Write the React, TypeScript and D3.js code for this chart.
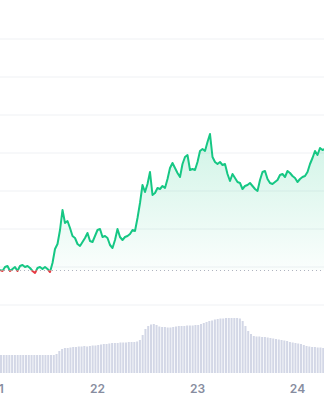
import React from "react";
import * as d3 from "d3";

const W = 324;
const H = 400;

// price samples: every 36 minutes starting 21st 00:36
const priceStart = new Date(2024, 5, 21, 0, 36);
const priceIntervalMin = 36;
const prices = [
  13.5, 13.4, 13.8, 13.9, 13.4, 13.6, 13.8, 13.4, 13.9, 14.0,
  13.8, 13.9, 13.7, 13.4, 13.2, 13.7, 13.8, 13.6, 13.8, 13.6,
  13.3, 14.2, 15.6, 16.1, 17.5, 19.5, 18.2, 18.4, 17.7, 16.9,
  16.7, 16.1, 15.9, 16.3, 16.7, 17.2, 16.4, 16.3, 16.9, 17.5,
  17.6, 16.8, 16.9, 16.7, 16.0, 15.7, 16.5, 17.6, 16.8, 16.5,
  16.8, 16.9, 17.1, 17.5, 17.4, 18.7, 20.2, 22.0, 21.3, 22.1,
  23.3, 21.0, 21.2, 21.7, 21.6, 21.9, 21.7, 22.6, 23.7, 24.2,
  23.7, 23.2, 22.8, 24.1, 24.8, 25.0, 23.5, 23.6, 23.5, 24.3,
  25.4, 25.6, 25.4, 26.3, 27.1, 24.8, 24.3, 24.1, 24.3, 24.0,
  24.1, 23.1, 22.4, 23.1, 22.7, 22.3, 22.2, 21.6, 21.9, 22.0,
  22.2, 21.9, 21.6, 21.4, 22.5, 23.3, 23.4, 22.6, 22.2, 22.1,
  22.3, 22.5, 23.0, 23.1, 22.8, 23.4, 23.2, 22.9, 22.7, 22.3,
  22.6, 22.8, 22.9, 23.3, 24.1, 24.7, 25.4, 25.0, 25.7, 25.5,
  25.6,
];
const openPrice = 13.45;
const priceGrid = [10, 13.8, 17.6, 21.4, 25.2, 29, 32.8, 36.6];

// volume bars: every 40 minutes
const volumeIntervalMin = 40;
const volumes = [
  18, 18, 18, 18, 18, 18, 18, 18, 18, 18,
  18, 18, 18, 18, 18, 18, 18, 18, 18, 18,
  19, 22, 24, 25, 25, 25.5, 26, 26, 26.5, 26.5,
  27, 26.5, 27, 27.5, 27.5, 28, 28.5, 29, 29, 29.5,
  30, 30, 30, 30.5, 30.5, 30.5, 31, 31, 31, 31.5,
  33, 38, 44, 47, 48.5, 49, 48, 46.5, 46, 46,
  45.5, 45.5, 46, 46.5, 47, 47, 47, 47.5, 47.5, 47.5,
  48, 48, 49, 50, 51, 52, 52.5, 53.5, 54, 54.5,
  54.5, 55, 55, 55, 55, 55, 54.5, 52, 47, 42,
  39, 37, 36.5, 36.5, 36, 36, 35.5, 35, 34.5, 34,
  33.5, 33, 32.5, 32, 31, 30.5, 30, 29.5, 29, 28,
  27, 26.5, 26, 26, 25.5, 25.5, 25,
];

const tickDates = [
  new Date(2024, 5, 21),
  new Date(2024, 5, 22),
  new Date(2024, 5, 23),
  new Date(2024, 5, 24),
];
const tickLabels = ["21", "22", "23", "24"];

const GREEN = "#16c784";
const RED = "#ea3943";

export default function App() {
  const x = d3
    .scaleTime()
    .domain([priceStart, new Date(2024, 5, 24, 6, 21, 36)])
    .range([0, W]);
  const y = d3.scaleLinear().domain([10, 36.6]).range([305, 39]);
  const v = d3.scaleLinear().domain([0, 60]).range([373, 313]);

  const pts = prices.map((p, i) => ({
    t: new Date(priceStart.getTime() + i * priceIntervalMin * 60000),
    p,
  }));
  const line = d3
    .line<{ t: Date; p: number }>()
    .x((d) => x(d.t))
    .y((d) => y(d.p));
  const area = d3
    .area<{ t: Date; p: number }>()
    .x((d) => x(d.t))
    .y0(y(openPrice))
    .y1((d) => y(d.p));
  const base = y(openPrice);

  return (
    <svg
      width={W}
      height={H}
      style={{ position: "absolute", left: 0, top: 0, background: "#fff" }}
      fontFamily="Inter, sans-serif"
    >
      <defs>
        <clipPath id="above">
          <rect x={0} y={0} width={W} height={base} />
        </clipPath>
        <clipPath id="below">
          <rect x={0} y={base} width={W} height={H - base} />
        </clipPath>
        <linearGradient id="gUp" gradientUnits="userSpaceOnUse" x1="0" y1={y(27)} x2="0" y2={base}>
          <stop offset="0" stopColor={GREEN} stopOpacity={0.2} />
          <stop offset="1" stopColor={GREEN} stopOpacity={0.02} />
        </linearGradient>
        <linearGradient id="gDown" gradientUnits="userSpaceOnUse" x1="0" y1={base} x2="0" y2={base + 10}>
          <stop offset="0" stopColor={RED} stopOpacity={0.02} />
          <stop offset="1" stopColor={RED} stopOpacity={0.15} />
        </linearGradient>
      </defs>

      {priceGrid.map((g) => (
        <line key={g} x1={0} x2={W} y1={y(g)} y2={y(g)} stroke="#eff1f4" strokeWidth={1} />
      ))}

      {volumes.map((val, i) => {
        const t = new Date(priceStart.getTime() + i * volumeIntervalMin * 60000);
        return (
          <rect key={i} x={x(t)} y={v(val)} width={2} height={v(0) - v(val)} fill="#d3d7e6" />
        );
      })}

      <path d={area(pts) || ""} fill="url(#gUp)" clipPath="url(#above)" />
      <path d={area(pts) || ""} fill="url(#gDown)" clipPath="url(#below)" />

      <line
        x1={0}
        x2={W}
        y1={base}
        y2={base}
        stroke="#aeb3c0"
        strokeWidth={1}
        strokeDasharray="1 3"
      />

      <path d={line(pts) || ""} fill="none" stroke={GREEN} strokeWidth={2} strokeLinejoin="round" clipPath="url(#above)" />
      <path d={line(pts) || ""} fill="none" stroke={RED} strokeWidth={2} strokeLinejoin="round" clipPath="url(#below)" />

      {tickDates.map((d, i) => (
        <text
          key={i}
          x={x(d)}
          y={393}
          textAnchor="middle"
          fontSize={12}
          fontWeight={600}
          fill="#878da0"
        >
          {tickLabels[i]}
        </text>
      ))}
    </svg>
  );
}
